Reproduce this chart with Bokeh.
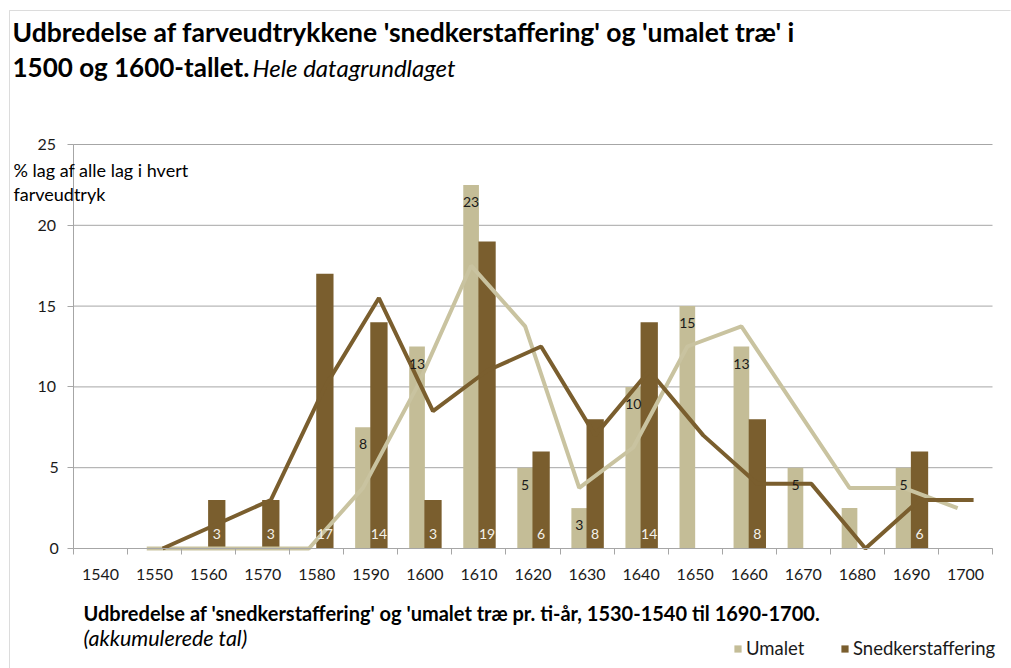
from bokeh.plotting import figure
from bokeh.models import (Range1d, FixedTicker, ColumnDataSource, Legend,
                          LegendItem, Label, LinearAxis, BoxAnnotation)
from bokeh.embed import file_html
from bokeh.resources import INLINE
from bokeh.core.properties import value

# ---------------- data ----------------
years = ["1540", "1550", "1560", "1570", "1580", "1590", "1600", "1610", "1620",
         "1630", "1640", "1650", "1660", "1670", "1680", "1690", "1700"]
umalet = [0, 0, 0, 0, 0, 7.5, 12.5, 22.5, 5, 2.5, 10, 15, 12.5, 5, 2.5, 5, 0]
snedker = [0, 0, 3, 3, 17, 14, 3, 19, 6, 8, 14, 0, 8, 0, 0, 6, 0]
umalet_labels = ["", "", "", "", "", "8", "13", "23", "5", "3", "10", "15", "13",
                 "5", "", "5", ""]
snedker_labels = ["", "", "3", "3", "17", "14", "3", "19", "6", "8", "14", "",
                  "8", "", "", "6", ""]
# trend lines (1550 .. 1700)
trend_years = years[1:]
umalet_trend = [0, 0, 0, 0, 3.75, 10, 17.5, 13.75, 3.75, 6.25, 12.5, 13.75,
                8.75, 3.75, 3.75, 2.5]
snedker_trend = [0, 1.5, 3, 10, 15.5, 8.5, 11, 12.5, 7, 11, 7, 4, 4, 0, 3, 3]
y_ticks_1 = [0, 5]
y_ticks_2 = [10, 15, 20, 25]

title1 = "Udbredelse af farveudtrykkene 'snedkerstaffering' og 'umalet træ' i"
title2a = "1500 og 1600-tallet."
title2b = "Hele datagrundlaget"
ytitle1 = "% lag af alle lag i hvert"
ytitle2 = "farveudtryk"
xtitle1 = "Udbredelse af 'snedkerstaffering'  og 'umalet træ pr. ti-år,  1530-1540 til 1690-1700."
xtitle2 = "(akkumulerede tal)"
series_names = ["Umalet", "Snedkerstaffering"]

# ---------------- style / geometry (pixels) ----------------
FONT = "Lato"
C_UM = "#c4bd97"
C_SN = "#7a5e2e"
C_UM_LINE = "#c9c3a0"
C_GRID = "#a6a6a6"
TXT = "#1a1a1a"

W, H = 1011, 668
TOP_B, RIGHT_B = 4, 1                      # thin side panels
FR_W, FR_H = W - RIGHT_B, H - TOP_B        # frame covers the rest of the canvas
DATA_L, DATA_R, Y0_PX, YTOP_PX = 73, 992, 548, 144

n = len(years)
kx = (DATA_R - DATA_L) / n
x_start = -0.5 - DATA_L / kx
x_end = -0.5 + (FR_W - DATA_L) / kx
ymax = 25
ky = (Y0_PX - YTOP_PX) / ymax
y_end = (Y0_PX - TOP_B) / ky
y_start = -(H - Y0_PX) / ky

idx = list(range(n))
U_OFF, S_OFF = -0.145, 0.15
tidx = [years.index(y) for y in trend_years]
grid_vals = y_ticks_1 + y_ticks_2

src_u = ColumnDataSource(dict(x=[i + U_OFF for i in idx], top=umalet, lab=umalet_labels))
src_s = ColumnDataSource(dict(x=[i + S_OFF for i in idx], top=snedker, lab=snedker_labels,
                              zero=[0] * n))
src_ut = ColumnDataSource(dict(x=[i + U_OFF for i in tidx], y=umalet_trend))
src_st = ColumnDataSource(dict(x=[i + S_OFF for i in tidx], y=snedker_trend))

p = figure(width=W, height=H, x_range=Range1d(x_start, x_end),
           y_range=Range1d(y_start, y_end), output_backend="svg",
           toolbar_location=None, x_axis_location="above", y_axis_location="right",
           title_location=None,
           min_border_left=0, min_border_bottom=0,
           min_border_top=TOP_B, min_border_right=RIGHT_B)
p.outline_line_color = None
p.background_fill_color = "white"
p.border_fill_color = "white"
p.xgrid.visible = False
p.ygrid.visible = False

# horizontal gridlines limited to the data area
p.segment(x0=[-0.5] * len(grid_vals), x1=[n - 0.5] * len(grid_vals),
          y0=grid_vals, y1=grid_vals, line_color=C_GRID, line_width=1)

# y axis (drawn at the left edge of the data area; labels to its left)
ya = p.yaxis[0]
ya.fixed_location = -0.5
ya.bounds = (0, ymax)
ya.ticker = FixedTicker(ticks=y_ticks_2)
ya.axis_line_color = C_GRID
ya.major_tick_line_color = C_GRID
ya.major_tick_in = 6
ya.major_tick_out = 0
ya.minor_tick_line_color = None
ya.major_label_text_font = FONT
ya.major_label_text_font_size = "16px"
ya.major_label_text_color = TXT
ya.major_label_text_align = "left"
ya.major_label_standoff = -36

ya2 = LinearAxis(fixed_location=-0.5, bounds=(0, ymax),
                 ticker=FixedTicker(ticks=y_ticks_1),
                 axis_line_color=C_GRID, major_tick_line_color=C_GRID,
                 major_tick_in=6, major_tick_out=0, minor_tick_line_color=None,
                 major_label_text_font=FONT, major_label_text_font_size="16px",
                 major_label_text_color=TXT, major_label_text_align="left",
                 major_label_standoff=-24)
p.add_layout(ya2, "right")

# x axis (at y = 0; labels below, tick marks at category boundaries)
xa = p.xaxis[0]
xa.fixed_location = 0
xa.bounds = (-0.5, n - 0.5)
xa.ticker = FixedTicker(ticks=idx, minor_ticks=[i - 0.5 for i in range(n + 1)])
xa.major_label_overrides = {i: y for i, y in zip(idx, years)}
xa.axis_line_color = C_GRID
xa.major_tick_line_color = None
xa.major_tick_out = 0
xa.major_tick_in = 0
xa.minor_tick_line_color = C_GRID
xa.minor_tick_out = 0
xa.minor_tick_in = 6
xa.major_label_text_font = FONT
xa.major_label_text_font_size = "16px"
xa.major_label_text_color = TXT
xa.major_label_standoff = -31

# bars
r_u = p.vbar(x="x", top="top", width=0.29, bottom=0, source=src_u,
             fill_color=C_UM, line_color=None)
r_s = p.vbar(x="x", top="top", width=0.32, bottom=0, source=src_s,
             fill_color=C_SN, line_color=None)

# trend lines
p.line("x", "y", source=src_ut, line_color=C_UM_LINE, line_width=4)
p.line("x", "y", source=src_st, line_color=C_SN, line_width=4)

# data labels
p.text(x="x", y="top", text="lab", source=src_u, text_font=value(FONT),
       text_font_size="14px", text_color=TXT, text_align="center",
       text_baseline="middle", y_offset=17)
p.text(x="x", y="zero", text="lab", source=src_s, text_font=value(FONT),
       text_font_size="14px", text_color="#f4f1ea", text_align="center",
       text_baseline="middle", y_offset=-15)


def free_text(X, Yc, text, size, style="normal"):
    p.add_layout(Label(x=X, y=FR_H + TOP_B - Yc, x_units="screen", y_units="screen",
                       text=text, text_font=FONT, text_font_size=size,
                       text_font_style=style, text_color="black",
                       text_baseline="middle", text_align="left"))


# outer chart border (left and top edges visible)
p.add_layout(BoxAnnotation(left=9, right=3000, top=H - 10, bottom=-200,
                           left_units="screen", right_units="screen",
                           top_units="screen", bottom_units="screen",
                           fill_alpha=0, line_color="#8c8c8c", line_width=1))

free_text(12, 31, title1, "26.5px", "bold")
free_text(12, 66, title2a, "26px", "bold")
free_text(252, 67, title2b, "24px", "italic")
free_text(13, 169, ytitle1, "18px")
free_text(13, 193, ytitle2, "18px")
free_text(83, 612, xtitle1, "20px", "bold")
free_text(83, 637, xtitle2, "21.5px", "italic")

# series legend
for r, name, xpos in [(r_u, series_names[0], 733), (r_s, series_names[1], 840)]:
    lg = Legend(items=[LegendItem(label=name, renderers=[r])],
                location=(xpos, H - (648 + 12)),
                orientation="horizontal", border_line_color=None,
                background_fill_alpha=0, padding=0, margin=0, spacing=0,
                glyph_width=9, glyph_height=9, label_height=24, label_standoff=4,
                label_text_font=FONT, label_text_font_size="18.5px",
                label_text_color=TXT)
    p.add_layout(lg, "center")

open("out.html", "w").write(file_html(p, INLINE))
